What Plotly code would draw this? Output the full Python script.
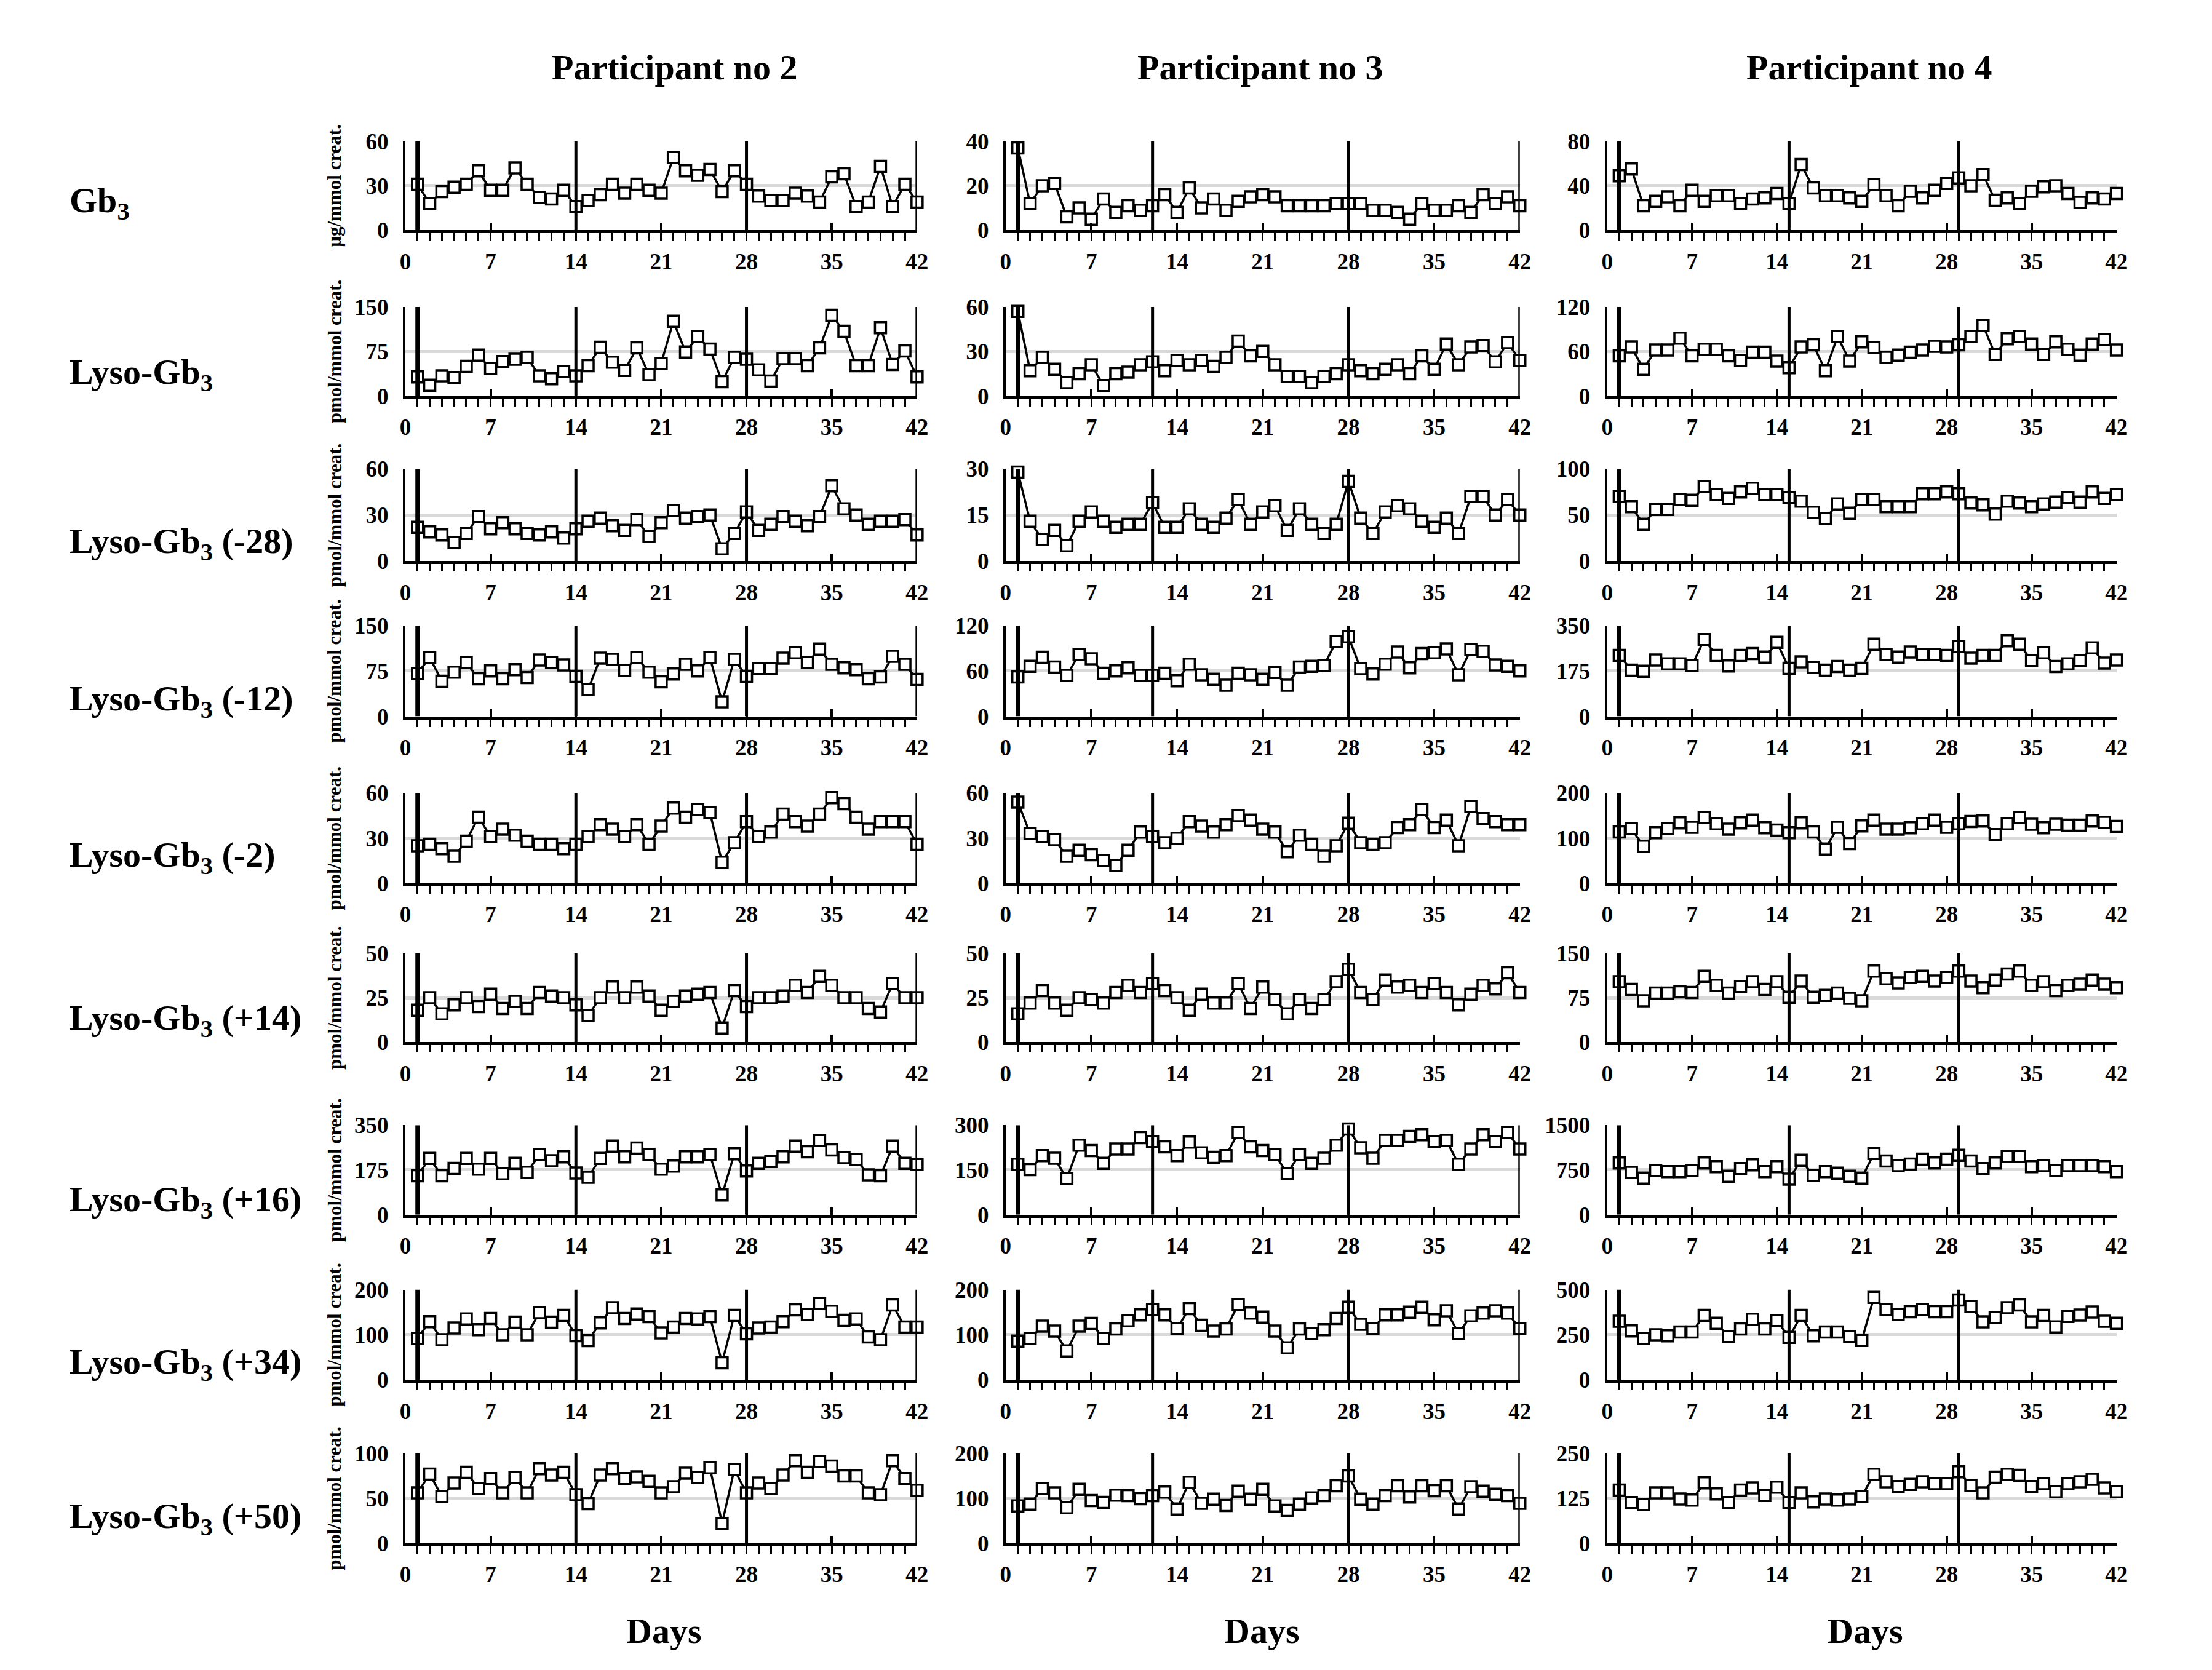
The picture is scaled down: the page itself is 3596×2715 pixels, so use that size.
import plotly.graph_objects as go
from plotly.subplots import make_subplots

# sampling days (one urine sample per day)
DAYS = list(range(1, 43))

# ---- participant no 2 ----
p2_gb3 = [31, 18, 26, 29, 31, 40, 27, 27, 42, 31, 22, 21, 27, 16, 20, 24, 31, 25, 31, 27, 25,
          49, 40, 37, 41, 26, 40, 31, 23, 20, 20, 25, 23, 19, 36, 38, 16, 19, 43, 16, 31, 19]
p2_lyso = [32, 18, 34, 31, 50, 69, 46, 58, 62, 65, 34, 29, 41, 34, 51, 82, 57, 43, 81, 36, 55,
           126, 74, 100, 79, 24, 65, 62, 44, 25, 63, 63, 51, 81, 136, 109, 51, 51, 115, 53, 76, 32]
p2_m28 = [22, 19, 17, 12, 18, 29, 21, 25, 21, 18, 17, 19, 15, 21, 26, 28, 23, 20, 27, 16, 25,
          33, 28, 29, 30, 8, 18, 32, 20, 24, 29, 26, 23, 29, 49, 34, 30, 24, 26, 26, 27, 17]
p2_m12 = [71, 97, 58, 73, 89, 62, 75, 62, 77, 64, 93, 89, 85, 66, 44, 96, 94, 76, 97, 73, 57,
          70, 86, 75, 97, 24, 94, 66, 79, 79, 96, 105, 89, 111, 86, 80, 77, 62, 65, 99, 86, 61]
p2_m2 = [25, 26, 23, 18, 28, 44, 31, 36, 32, 28, 26, 26, 23, 26, 31, 39, 36, 31, 39, 26, 38,
         50, 44, 49, 47, 14, 27, 41, 31, 34, 46, 41, 38, 46, 57, 53, 44, 36, 41, 41, 41, 26]
p2_p14 = [18, 25, 16, 21, 25, 20, 27, 19, 23, 19, 28, 26, 25, 21, 15, 25, 31, 25, 31, 26, 18,
          23, 26, 27, 28, 8, 29, 20, 25, 25, 26, 32, 28, 37, 32, 25, 25, 19, 17, 33, 25, 25]
p2_p16 = [152, 220, 152, 181, 220, 178, 220, 160, 201, 166, 235, 211, 226, 163, 146, 220, 268,
          226, 260, 235, 178, 190, 226, 226, 235, 77, 238, 171, 201, 208, 226, 268, 246, 290,
          253, 223, 216, 156, 152, 268, 201, 196]
p2_p34 = [92, 129, 89, 115, 135, 111, 136, 100, 128, 100, 149, 128, 143, 98, 87, 126, 160, 136,
          146, 140, 104, 117, 136, 135, 140, 38, 143, 102, 115, 117, 129, 155, 145, 169, 152,
          132, 135, 95, 89, 166, 117, 117]
p2_p50 = [56, 77, 52, 67, 79, 61, 72, 56, 73, 56, 83, 76, 79, 54, 44, 76, 83, 72, 74, 69, 56,
          63, 78, 73, 84, 22, 82, 56, 67, 61, 76, 92, 79, 91, 86, 75, 75, 56, 54, 92, 72, 59]

# ---- participant no 3 ----
p3_gb3 = [37, 12, 20, 21, 6, 10, 5, 14, 8, 11, 9, 11, 16, 8, 19, 10, 14, 9, 13, 15, 16,
          15, 11, 11, 11, 11, 12, 12, 12, 9, 9, 8, 5, 12, 9, 9, 11, 8, 16, 12, 15, 11]
p3_lyso = [57, 17, 26, 18, 9, 15, 21, 7, 15, 16, 21, 23, 17, 24, 21, 24, 20, 26, 37, 27, 30,
           21, 13, 13, 9, 13, 15, 21, 17, 15, 18, 21, 15, 27, 18, 35, 21, 33, 34, 23, 36, 24]
p3_m28 = [29, 13, 7, 10, 5, 13, 16, 13, 11, 12, 12, 19, 11, 11, 17, 12, 11, 14, 20, 12, 16,
          18, 10, 17, 12, 9, 12, 26, 14, 9, 16, 18, 17, 13, 11, 14, 9, 21, 21, 15, 20, 15]
p3_m12 = [52, 66, 78, 65, 54, 82, 76, 57, 60, 64, 54, 54, 57, 47, 69, 55, 49, 41, 57, 55, 49,
          58, 41, 65, 66, 67, 99, 105, 63, 56, 69, 85, 64, 83, 84, 89, 55, 88, 86, 68, 66, 60]
p3_m2 = [54, 33, 31, 29, 18, 22, 19, 15, 12, 22, 34, 31, 27, 30, 41, 38, 34, 39, 45, 42, 36,
         34, 21, 32, 26, 18, 25, 40, 27, 26, 27, 37, 39, 49, 37, 42, 25, 51, 43, 41, 39, 39]
p3_p14 = [16, 22, 29, 22, 18, 25, 24, 22, 28, 32, 28, 33, 29, 25, 18, 27, 22, 22, 33, 19, 31,
          24, 16, 24, 19, 24, 34, 41, 28, 24, 35, 31, 32, 28, 33, 28, 21, 27, 32, 30, 39, 28]
p3_p16 = [169, 151, 198, 189, 121, 233, 215, 172, 220, 220, 258, 245, 227, 198, 243, 207, 192,
          198, 275, 227, 215, 202, 138, 202, 172, 189, 233, 287, 224, 189, 249, 249, 262, 268,
          245, 249, 169, 220, 268, 245, 275, 220]
p3_p34 = [86, 92, 119, 108, 64, 119, 125, 92, 113, 131, 144, 156, 144, 114, 158, 121, 108, 113,
          167, 148, 139, 108, 71, 113, 103, 111, 136, 161, 123, 114, 144, 144, 150, 161, 133,
          153, 103, 142, 148, 153, 148, 114]
p3_p50 = [83, 87, 122, 112, 79, 120, 95, 91, 107, 106, 99, 106, 114, 76, 136, 89, 98, 84, 116,
          98, 120, 83, 73, 87, 101, 106, 128, 150, 98, 87, 106, 128, 103, 128, 117, 128, 76,
          126, 116, 109, 106, 89]

# ---- participant no 4 ----
p4_gb3 = [49, 55, 22, 26, 30, 22, 36, 26, 31, 31, 24, 28, 29, 33, 24, 59, 38, 31, 31, 29, 26,
          41, 31, 22, 35, 29, 36, 42, 47, 40, 50, 27, 29, 24, 35, 39, 40, 33, 25, 29, 28, 33]
p4_lyso = [54, 66, 36, 62, 62, 78, 54, 63, 63, 54, 48, 59, 59, 47, 38, 66, 69, 34, 80, 47, 73,
           65, 52, 55, 59, 62, 67, 66, 69, 80, 95, 56, 77, 80, 70, 56, 73, 63, 55, 70, 76, 62]
p4_m28 = [70, 59, 40, 56, 56, 67, 66, 81, 72, 68, 75, 79, 72, 72, 69, 65, 53, 46, 62, 52, 67,
          67, 59, 59, 59, 73, 73, 75, 73, 63, 61, 51, 65, 63, 59, 62, 64, 69, 64, 75, 68, 72]
p4_m12 = [235, 178, 174, 217, 202, 202, 196, 296, 235, 194, 235, 242, 228, 285, 185, 210, 188,
          178, 192, 178, 185, 278, 239, 228, 248, 239, 239, 235, 269, 224, 235, 235, 291, 278,
          215, 245, 192, 202, 215, 264, 205, 217]
p4_m2 = [114, 121, 82, 112, 121, 134, 124, 146, 132, 120, 134, 140, 123, 118, 112, 134, 114, 76,
         124, 88, 127, 140, 120, 120, 123, 132, 140, 124, 132, 137, 138, 108, 132, 146, 131,
         123, 131, 129, 129, 138, 135, 126]
p4_p14 = [102, 89, 70, 83, 83, 85, 84, 111, 96, 83, 94, 102, 89, 102, 76, 103, 76, 79, 83, 74,
          70, 120, 107, 100, 109, 111, 103, 109, 120, 103, 92, 105, 115, 120, 96, 102, 87, 96,
          98, 105, 98, 92]
p4_p16 = [866, 708, 614, 740, 721, 721, 740, 866, 803, 645, 772, 835, 721, 803, 595, 911, 658,
          721, 696, 645, 614, 1025, 899, 823, 848, 930, 867, 930, 994, 899, 772, 867, 975, 975,
          803, 823, 740, 823, 823, 823, 803, 721]
p4_p34 = [325, 271, 229, 250, 244, 265, 265, 357, 314, 240, 282, 336, 282, 329, 235, 357, 244,
          265, 265, 240, 218, 457, 389, 363, 378, 389, 378, 378, 442, 406, 321, 346, 400, 415,
          321, 357, 293, 351, 359, 376, 325, 314]
p4_p50 = [148, 113, 107, 140, 140, 123, 120, 168, 137, 113, 148, 154, 133, 156, 113, 140, 115,
          123, 120, 123, 130, 192, 171, 158, 164, 171, 166, 166, 199, 161, 140, 184, 192, 189,
          158, 166, 143, 166, 171, 178, 154, 143]

PARTICIPANTS = ["Participant no 2", "Participant no 3", "Participant no 4"]
ROW_LABELS = ["Gb<sub>3</sub>", "Lyso-Gb<sub>3</sub>", "Lyso-Gb<sub>3</sub> (-28)",
              "Lyso-Gb<sub>3</sub> (-12)", "Lyso-Gb<sub>3</sub> (-2)", "Lyso-Gb<sub>3</sub> (+14)",
              "Lyso-Gb<sub>3</sub> (+16)", "Lyso-Gb<sub>3</sub> (+34)", "Lyso-Gb<sub>3</sub> (+50)"]
UNITS = ["µg/mmol creat."] + ["pmol/mmol creat."] * 8

SERIES = [
    [p2_gb3, p3_gb3, p4_gb3],
    [p2_lyso, p3_lyso, p4_lyso],
    [p2_m28, p3_m28, p4_m28],
    [p2_m12, p3_m12, p4_m12],
    [p2_m2, p3_m2, p4_m2],
    [p2_p14, p3_p14, p4_p14],
    [p2_p16, p3_p16, p4_p16],
    [p2_p34, p3_p34, p4_p34],
    [p2_p50, p3_p50, p4_p50],
]
Y_MAX = [
    [60, 40, 80],
    [150, 60, 120],
    [60, 30, 100],
    [150, 120, 350],
    [60, 60, 200],
    [50, 50, 150],
    [350, 300, 1500],
    [200, 200, 500],
    [100, 200, 250],
]

# bold vertical reference lines (days)
P2_LINES = [1, 14, 28, 42]
P3_LINES = [1, 12, 28, 42]
P3_LINES_OPEN = [1, 12, 28]
P4_LINES = [1, 15, 29]
EVENT_DAYS = [
    [P2_LINES, P3_LINES, P4_LINES],
    [P2_LINES, P3_LINES, P4_LINES],
    [P2_LINES, P3_LINES, P4_LINES],
    [P2_LINES, P3_LINES_OPEN, P4_LINES],
    [P2_LINES, P3_LINES_OPEN, P4_LINES],
    [P2_LINES, P3_LINES_OPEN, P4_LINES],
    [P2_LINES, P3_LINES, P4_LINES],
    [P2_LINES, P3_LINES, P4_LINES],
    [P2_LINES, P3_LINES, P4_LINES],
]

W, H = 3596, 2715
FONT = "Liberation Serif, Times New Roman, serif"

# target positions in screenshot pixels; the page shows the figure slightly
# shifted/scaled, so map through a small correction
OFF_X, SCALE_X = 16, 0.9926
OFF_Y, SCALE_Y = 26, 0.987


def px_x(p):
    return ((p - OFF_X) / SCALE_X) / W


def px_y(p):
    return 1 - ((p - OFF_Y) / SCALE_Y) / H


COL_PX = [(658, 1490), (1634, 2470), (2612, 3440)]
ROW_PX = [(228, 373), (498, 643), (762, 912), (1017, 1165), (1290, 1437),
          (1551, 1696), (1831, 1977), (2099, 2246), (2366, 2512)]
LABEL_Y = [328, 608, 883, 1140, 1394, 1660, 1956, 2220, 2472]

fig = make_subplots(rows=9, cols=3)

for r in range(9):
    for c in range(3):
        ymax = Y_MAX[r][c]
        fig.add_trace(go.Scatter(
            x=DAYS, y=SERIES[r][c], mode="lines+markers",
            line=dict(color="black", width=3.5),
            marker=dict(symbol="square", size=18, color="white",
                        line=dict(color="black", width=3.5)),
            cliponaxis=False, showlegend=False,
        ), row=r + 1, col=c + 1)

        x0, x1 = COL_PX[c]
        t, b = ROW_PX[r]
        fig.update_xaxes(
            domain=[px_x(x0), px_x(x1)], range=[0, 42],
            tickmode="linear", tick0=0, dtick=7,
            ticks="inside", ticklen=12, tickwidth=3.5, tickcolor="black",
            minor=dict(ticks="outside", dtick=1, tick0=0, ticklen=12,
                       tickwidth=3, tickcolor="black", showgrid=False),
            showline=True, linecolor="black", linewidth=5,
            showgrid=False, zeroline=False, ticklabelstandoff=14,
            tickfont=dict(family=FONT, size=37, color="black", weight="bold"),
            row=r + 1, col=c + 1)
        fig.update_yaxes(
            domain=[px_y(b), px_y(t)], range=[0, ymax],
            tickvals=[0, ymax / 2, ymax], ticktext=[0, f"{ymax / 2:g}", ymax],
            ticks="", showline=True, linecolor="black", linewidth=4,
            showgrid=True, gridcolor="#d9d9d9", gridwidth=5, zeroline=False,
            ticklabelstandoff=16,
            tickfont=dict(family=FONT, size=37, color="black", weight="bold"),
            row=r + 1, col=c + 1)

        n = r * 3 + c + 1
        suffix = "" if n == 1 else str(n)
        for k, d in enumerate(EVENT_DAYS[r][c]):
            # the first (baseline) marker line is drawn heavier
            fig.add_shape(type="line", xref=f"x{suffix}", yref=f"y{suffix}",
                          x0=d, x1=d, y0=0, y1=ymax,
                          line=dict(color="black", width=7 if k == 0 else 5))

# row labels and unit titles
for r in range(9):
    t, b = ROW_PX[r]
    fig.add_annotation(text=ROW_LABELS[r], xref="paper", yref="paper",
                       x=px_x(110), y=px_y(LABEL_Y[r]), xanchor="left", yanchor="middle",
                       showarrow=False,
                       font=dict(family=FONT, size=58, color="black", weight="bold"))
    fig.add_annotation(text=UNITS[r], xref="paper", yref="paper",
                       x=px_x(543), y=px_y((t + b) / 2), textangle=-90,
                       xanchor="center", yanchor="middle", showarrow=False,
                       font=dict(family=FONT, size=31, color="black", weight="bold"))

# column titles and x-axis titles
TITLE_X = [1096, 2048, 3038]
DAYS_X = [1078, 2050, 3031]
for c in range(3):
    fig.add_annotation(text=PARTICIPANTS[c], xref="paper", yref="paper",
                       x=px_x(TITLE_X[c]), y=px_y(108), showarrow=False,
                       xanchor="center", yanchor="middle",
                       font=dict(family=FONT, size=58, color="black", weight="bold"))
    fig.add_annotation(text="Days", xref="paper", yref="paper",
                       x=px_x(DAYS_X[c]), y=px_y(2655), showarrow=False,
                       xanchor="center", yanchor="middle",
                       font=dict(family=FONT, size=58, color="black", weight="bold"))

fig.update_layout(
    width=W, height=H,
    margin=dict(l=0, r=0, t=0, b=0),
    paper_bgcolor="white", plot_bgcolor="white",
    font=dict(family=FONT, color="black"),
)

fig.write_html("out.html")
